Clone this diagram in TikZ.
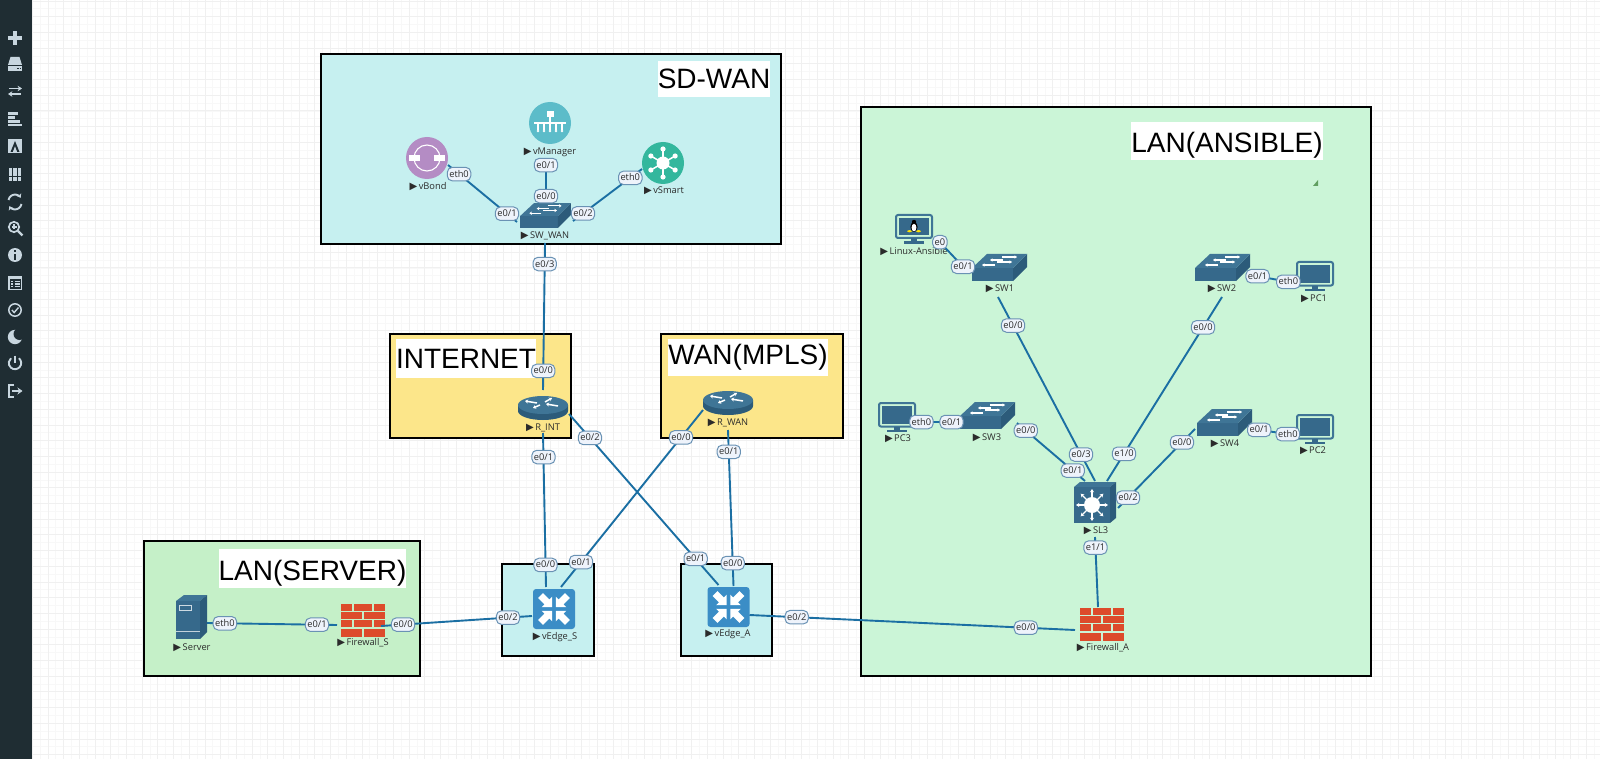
\documentclass[tikz,border=0pt]{standalone}
\usepackage{fontspec}
\setmainfont{Open Sans}
\newfontfamily\arialf{Liberation Sans}
\newfontfamily\dejavuf{DejaVu Sans}
\usetikzlibrary{arrows.meta}
\definecolor{barbg}{HTML}{1F2D33}
\definecolor{barfg}{HTML}{C8D6DF}
\definecolor{gridmin}{HTML}{F8F8F8}
\definecolor{gridmaj}{HTML}{F0F0F0}
\definecolor{cyanbox}{HTML}{C6F0F0}
\definecolor{greenbox}{HTML}{CBF5D7}
\definecolor{greenbox2}{HTML}{C5F0C8}
\definecolor{yellowbox}{HTML}{FCE68A}
\definecolor{linkc}{HTML}{1B6FA3}
\definecolor{devA}{HTML}{36698B}
\definecolor{devB}{HTML}{2C5B7A}
\definecolor{devC}{HTML}{3F7596}
\definecolor{brick}{HTML}{DD4B2B}
\definecolor{bondc}{HTML}{B48CC4}
\definecolor{manc}{HTML}{5CBCC9}
\definecolor{smartc}{HTML}{33B79D}
\definecolor{edgec}{HTML}{3B8DC6}
\definecolor{portf}{HTML}{EEF3FB}
\definecolor{portd}{HTML}{6A92B4}
\definecolor{textd}{HTML}{2B2B2B}
\newcommand{\tri}{{\dejavuf\fontsize{10}{10}\selectfont ▶}\,}
\tikzset{
  zone/.style={draw=black,line width=2.4pt},
  title/.style={fill=white,text=black,inner sep=0pt,font=\arialf\fontsize{28}{30}\selectfont,anchor=center},
  lowtitle/.style={title,text height=26pt,text depth=3pt},
  dev/.style={inner sep=0pt,minimum width=#1,minimum height=#1},
  dev/.default=30pt,
  devlabel/.style={text=textd,inner sep=0pt,text height=8pt,text depth=1pt,font=\fontsize{9.3}{10}\selectfont},
  link/.style={draw=linkc,line width=1.9pt},
  port/.style={draw=portd,line width=1pt,fill=portf,rounded corners=5pt,inner xsep=2pt,inner ysep=0pt,minimum height=13.5pt,text height=7.5pt,text depth=1.5pt,text=textd,font=\fontsize{9.3}{10}\selectfont},
  baricon/.style={fill=barfg,draw=none},
  swarrow/.style={white,line width=1.1pt,-{Stealth[length=2.6pt,width=3.4pt]}},
  switchicon/.pic={
    \fill[devA] (-27,0) rectangle (14,13);
    \fill[devB] (14,0) -- (28,-14) -- (28,-1) -- (14,13) -- cycle;
    \fill[devC] (-27,0) -- (-12,-14) -- (28,-14) -- (14,0) -- cycle;
    \draw[swarrow] (3,-11) -- (18,-11);
    \draw[swarrow] (4,-8) -- (-9,-8);
    \draw[swarrow] (-2,-6) -- (13,-6);
    \draw[swarrow] (-4,-3) -- (-17,-3);
  },
  rtarrow/.style={white,line width=1.5pt,-{Stealth[length=3pt,width=4pt]}},
  routericon/.pic={
    \fill[devB] (-25,-3) -- (-25,3) arc[start angle=180,end angle=360,x radius=25,y radius=-9] -- (25,-3) -- cycle;
    \fill[devC] (0,-3) ellipse[x radius=25,y radius=9];
    \draw[rtarrow] (-6,-5) -- (-18,-7);
    \draw[rtarrow] (2,-6) -- (9,-10);
    \draw[rtarrow] (15,-2) -- (3,-4);
    \draw[rtarrow] (-3,-3) -- (-10,0);
  },
  edgeicon/.pic={
    \fill[fill=edgec,rounded corners=3pt] (-21,-20) rectangle (21,20);
    \foreach \a in {45,135,225,315}{
      \fill[white,rotate=\a] (19,-3.5) -- (10,-3.5) -- (10,-7.5) -- (2.5,0) -- (10,7.5) -- (10,3.5) -- (19,3.5) -- cycle;
    }
  },
  coreicon/.pic={
    \fill[devC] (-18,-18) -- (-12,-23) -- (24,-23) -- (18,-18) -- cycle;
    \fill[devB] (18,-18) -- (24,-23) -- (24,13) -- (18,18) -- cycle;
    \fill[devA] (-18,-18) rectangle (18,18);
    \fill[white] (0,0) circle[radius=8];
    \foreach \a in {0,45,...,315}{
      \draw[white,line width=1.2pt,-{Stealth[length=3.4pt,width=4.2pt]},rotate=\a] (7,0) -- (16,0);
    }
  },
  fwicon/.pic={
    \foreach \ya/\yb in {-16.5/-9.5,0/7}{
      \fill[brick] (-22,\ya) rectangle (-11,\yb);
      \fill[brick] (-9,\ya) rectangle (9,\yb);
      \fill[brick] (11,\ya) rectangle (22,\yb);
    }
    \foreach \ya/\yb in {-8/-1,9/16.5}{
      \fill[brick] (-22,\ya) rectangle (-1,\yb);
      \fill[brick] (1,\ya) rectangle (22,\yb);
    }
  },
  servericon/.pic={
    \fill[devC] (-16,-16) -- (-8,-22) -- (15,-22) -- (8,-16) -- cycle;
    \fill[devB] (8,-16) -- (15,-22) -- (15,15) -- (8,22) -- cycle;
    \fill[devA] (-16,-16) rectangle (8,22);
    \draw[white!75!devA,line width=.8pt] (-13,-12) rectangle (-1,-7);
    \draw[white!70!devA,line width=1pt] (-16,14) -- (8,14);
  },
  monitoricon/.pic={
    \draw[devC,line width=2pt,rounded corners=2pt] (-18,-14) rectangle (18,9.5);
    \fill[devA] (-15,-11) rectangle (15,6.5);
    \fill[devA] (-3,9.5) rectangle (3,13);
    \fill[devA] (-10,12.5) rectangle (10,15);
  },
  linuxicon/.pic={
    \draw[devC,line width=2pt,rounded corners=2pt] (-18,-13) rectangle (18,10);
    \fill[devA] (-15,-10) rectangle (15,7);
    \fill[devA] (-3,10) rectangle (3,14);
    \fill[devA] (-10,13.5) rectangle (10,16);
    \fill[black] (0,-6) circle[radius=2.2];
    \fill[black] (0,-1) ellipse[x radius=3.6,y radius=5];
    \fill[white] (0,-.4) ellipse[x radius=2.4,y radius=3.8];
    \fill[yellow!85!orange] (-4.5,3.2) ellipse[x radius=2.3,y radius=1.1];
    \fill[yellow!85!orange] (4.5,3.2) ellipse[x radius=2.3,y radius=1.1];
  }
}
\begin{document}
\begin{tikzpicture}[x=1pt,y=-1pt]
\useasboundingbox (0,0) rectangle (1600,759);
\fill[white] (0,0) rectangle (1600,759);
% grid
\foreach \i in {0,...,205}{
  \pgfmathsetmacro{\gx}{16.5+7.85*\i}
  \draw[gridmin,line width=.7pt] (\gx,0) -- (\gx,759);
}
\foreach \i in {0,...,100}{
  \pgfmathsetmacro{\gy}{1+7.85*\i}
  \draw[gridmin,line width=.7pt] (0,\gy) -- (1600,\gy);
}
\foreach \i in {0,...,102}{
  \pgfmathsetmacro{\gx}{16.5+15.7*\i}
  \draw[gridmaj,line width=.8pt] (\gx,0) -- (\gx,759);
}
\foreach \i in {0,...,48}{
  \pgfmathsetmacro{\gy}{1+15.7*\i}
  \draw[gridmaj,line width=.8pt] (0,\gy) -- (1600,\gy);
}
% sidebar
\fill[barbg] (0,0) rectangle (32,759);
\fill[baricon] (8,36) rectangle (22,40.5);
\fill[baricon] (12.7,31.5) rectangle (17.3,45);
\fill[baricon] (10.5,57) -- (19.5,57) -- (22,65) -- (8,65) -- cycle;
\fill[baricon] (8,66) rectangle (22,71);
\fill[barbg] (17,68) rectangle (18.5,69.5);
\fill[barbg] (19.5,68) rectangle (21,69.5);
\draw[barfg,line width=1.9pt,-{Stealth[length=4.4pt,width=5.6pt]}] (9,88.5) -- (22,88.5);
\draw[barfg,line width=1.9pt,-{Stealth[length=4.4pt,width=5.6pt]}] (21,94) -- (8,94);
\fill[baricon] (8,112.5) rectangle (17.5,115.5);
\fill[baricon] (8,116.5) rectangle (15,119.5);
\fill[baricon] (8,120.5) rectangle (20,123.5);
\fill[baricon] (8,124.5) rectangle (22,126.5);
\fill[baricon] (8,139.5) rectangle (22,153);
\fill[barbg] (15,141) -- (19.5,152) -- (17.3,152) -- (15,146) -- (12.7,152) -- (10.5,152) -- cycle;
\foreach \cx in {8.5,13,17.5}{\foreach \cy in {168,172.5,177}{
  \fill[baricon] (\cx,\cy) rectangle ++(3.8,3.8);
}}
\draw[barfg,line width=1.9pt,-{Stealth[length=3.8pt,width=5.4pt]}] (8.5,200) arc[start angle=-170,end angle=-30,radius=6.6];
\draw[barfg,line width=1.9pt,-{Stealth[length=3.8pt,width=5.4pt]}] (21.5,204) arc[start angle=10,end angle=150,radius=6.6];
\draw[barfg,line width=1.7pt] (14,227) circle[radius=5.2];
\draw[barfg,line width=2.4pt] (18,231) -- (22.5,235.5);
\draw[barfg,line width=1.1pt] (11.5,227) -- (16.5,227) (14,224.5) -- (14,229.5);
\fill[baricon] (15,255) circle[radius=7];
\fill[barbg] (13.8,250.5) rectangle (16.2,252.5);
\fill[barbg] (13.8,254) rectangle (16.2,259.8);
\draw[barfg,line width=1.3pt] (9,276.5) rectangle (21.5,289.5);
\fill[baricon] (9,276.5) rectangle (21.5,279);
\draw[barfg,line width=1.1pt] (11,281.5) -- (13,281.5) (14.5,281.5) -- (20,281.5) (11,284) -- (13,284) (14.5,284) -- (20,284) (11,286.5) -- (13,286.5) (14.5,286.5) -- (20,286.5);
\draw[barfg,line width=1.5pt] (15,310) circle[radius=6.2];
\draw[barfg,line width=1.4pt] (11.8,310) -- (14.2,312.5) -- (18.5,307.5);
\fill[baricon] (15,337) circle[radius=7.2];
\fill[barbg] (19.5,334) circle[radius=6];
\draw[barfg,line width=1.9pt] (15,363) ++(-50:6.2) arc[start angle=-50,end angle=230,radius=6.2];
\draw[barfg,line width=1.9pt] (15,355.5) -- (15,362.5);
\draw[barfg,line width=1.9pt] (14,385) -- (9,385) -- (9,397) -- (14,397);
\draw[barfg,line width=2.4pt,-{Stealth[length=5pt,width=7pt]}] (12,391) -- (22.5,391);
% zones
\draw[zone,fill=cyanbox] (321,54) rectangle (781,244);
\draw[zone,fill=greenbox] (861,107) rectangle (1371,676);
\draw[zone,fill=yellowbox] (390,334) rectangle (571,438);
\draw[zone,fill=yellowbox] (661,334) rectangle (843,438);
\draw[zone,fill=greenbox2] (144,541) rectangle (420,676);
\draw[zone,fill=cyanbox] (502,564) rectangle (594,656);
\draw[zone,fill=cyanbox] (681,564) rectangle (772,656);
\fill[gray!75!green] (1313,186) -- (1318,180) -- (1318,186) -- cycle;
% zone titles
\node[title,minimum width=112pt,minimum height=36pt] (tsd) at (714,79) {SD-WAN};
\node[lowtitle,minimum width=192pt,minimum height=38pt] (tans) at (1227,141) {LAN(ANSIBLE)};
\node[title,minimum width=140pt,minimum height=39pt] (tint) at (466,358.5) {INTERNET};
\node[title,minimum width=160pt,minimum height=37pt] (twan) at (748,357.5) {WAN(MPLS)};
\node[lowtitle,minimum width=185pt,minimum height=39pt] (tsrv) at (312.5,568.5) {LAN(SERVER)};
% devices: named anchors and icons
\node[dev] (vBond) at (427,158) {};
\fill[bondc] (427,158) circle[radius=21];
\draw[white,line width=1.1pt] (427,158) circle[radius=13];
\fill[white] (409,155.5) rectangle (420,161.5);
\fill[white] (433.5,155.5) rectangle (444.5,161.5);
\node[dev] (vManager) at (550,123) {};
\fill[manc] (550,123) circle[radius=21];
\fill[white] (546.5,111) rectangle (553.5,117);
\draw[white,line width=1.2pt] (550,116) -- (550,122);
\fill[white] (534,122) rectangle (566,124.5);
\foreach \vx in {538,544,550,556,562}{
  \draw[white,line width=1.2pt] (\vx,124) -- (\vx,130);
  \fill[white] (\vx,131) circle[radius=1.3];
}
\node[dev] (vSmart) at (663,163) {};
\fill[smartc] (663,163) circle[radius=21];
\fill[white] (663,163) circle[radius=6.5];
\foreach \a in {30,90,150,210,270,330}{
  \draw[white,line width=1.5pt] (663,163) -- ++(\a:13.5);
  \fill[white] (663,163) ++(\a:14) circle[radius=2.6];
}
\node[dev=34pt] (swwan) at (545,216) {};
\pic[scale=.92] at (545,216) {switchicon};
\node[dev=34pt] (sw1) at (999,268) {};
\pic at (999,268) {switchicon};
\node[dev=34pt] (sw2) at (1222,268) {};
\pic at (1222,268) {switchicon};
\node[dev=34pt] (sw3) at (987,416) {};
\pic at (987,416) {switchicon};
\node[dev=34pt] (sw4) at (1224,423) {};
\pic at (1224,423) {switchicon};
\node[dev] (rint) at (543,408) {};
\pic at (543,408) {routericon};
\node[dev] (rwan) at (728,403) {};
\pic at (728,403) {routericon};
\node[dev] (vedges) at (554,609) {};
\pic at (554,609) {edgeicon};
\node[dev] (vedgea) at (728.5,607) {};
\pic at (728.5,607) {edgeicon};
\node[dev=36pt] (sl3) at (1092,505) {};
\pic at (1092,505) {coreicon};
\node[dev] (fwa) at (1102,624) {};
\pic at (1102,624) {fwicon};
\node[dev] (fws) at (363,620) {};
\pic at (363,620) {fwicon};
\node[dev] (server) at (192,617) {};
\pic at (192,617) {servericon};
\node[dev] (pc1) at (1315,276) {};
\pic at (1315,276) {monitoricon};
\node[dev] (pc2) at (1315,429) {};
\pic at (1315,429) {monitoricon};
\node[dev] (pc3) at (897,417) {};
\pic at (897,417) {monitoricon};
\node[dev] (linux) at (914,228) {};
\pic at (914,228) {linuxicon};
% device labels
\node[devlabel] (lvbond) at (428,186) {\tri vBond};
\node[devlabel] (lvman) at (550,151) {\tri vManager};
\node[devlabel] (lvsmart) at (664,190) {\tri vSmart};
\node[devlabel] (lswwan) at (545,235) {\tri SW\_WAN};
\node[devlabel] (lsw1) at (1000,288) {\tri SW1};
\node[devlabel] (lsw2) at (1222,288) {\tri SW2};
\node[devlabel] (lsw3) at (987,437) {\tri SW3};
\node[devlabel] (lsw4) at (1225,443) {\tri SW4};
\node[devlabel] (lpc1) at (1314,298) {\tri PC1};
\node[devlabel] (lpc2) at (1313,450) {\tri PC2};
\node[devlabel] (lpc3) at (898,438) {\tri PC3};
\node[devlabel] (llinux) at (914,251) {\tri Linux-Ansible};
\node[devlabel] (lsl3) at (1096,530) {\tri SL3};
\node[devlabel] (lfwa) at (1103,647) {\tri Firewall\_A};
\node[devlabel] (lfws) at (363,642) {\tri Firewall\_S};
\node[devlabel] (lserver) at (192,647) {\tri Server};
\node[devlabel] (lves) at (555,636) {\tri vEdge\_S};
\node[devlabel] (lvea) at (728,633) {\tri vEdge\_A};
\node[devlabel] (lrint) at (543,427) {\tri R\_INT};
\node[devlabel] (lrwan) at (728,422) {\tri R\_WAN};
% connectors
\draw[link] ([shift={(21,7)}]vBond.center) -- node[port,pos=.16] (p1a) {eth0} node[port,pos=.855] (p1b) {e0/1} ([shift={(-28,6)}]swwan.center);
\draw[link] ([shift={(-4,37)}]vManager.center) -- node[port,pos=.12] (p2a) {e0/1} node[port,pos=.86] (p2b) {e0/0} ([shift={(1,-14)}]swwan.center);
\draw[link] ([shift={(-21,6)}]vSmart.center) -- node[port,pos=.17] (p3a) {eth0} node[port,pos=.855] (p3b) {e0/2} ([shift={(28,5)}]swwan.center);
\draw[link] ([shift={(0,27)}]swwan.center) -- node[port,pos=.143] (p4a) {e0/3} node[port,pos=.87] (p4b) {e0/0} ([shift={(0,-18)}]rint.center);
\draw[link] ([shift={(0,25)}]rint.center) -- node[port,pos=.156] (p5a) {e0/1} node[port,pos=.857] (p5b) {e0/0} ([shift={(-8,-22)}]vedges.center);
\draw[link] ([shift={(26,6)}]rint.center) -- node[port,pos=.14] (p6a) {e0/2} node[port,pos=.847] (p6b) {e0/1} ([shift={(-10,-22)}]vedgea.center);
\draw[link] ([shift={(-25,7)}]rwan.center) -- node[port,pos=.155] (p7a) {e0/0} node[port,pos=.859] (p7b) {e0/1} ([shift={(7,-22)}]vedges.center);
\draw[link] ([shift={(0,27)}]rwan.center) -- node[port,pos=.14] (p8a) {e0/1} node[port,pos=.853] (p8b) {e0/0} ([shift={(5,-21)}]vedgea.center);
\draw[link] ([shift={(15,6)}]server.center) -- node[port,pos=.138] (p9a) {eth0} node[port,pos=.846] (p9b) {e0/1} ([shift={(-26,5)}]fws.center);
\draw[link] ([shift={(18,6)}]fws.center) -- node[port,pos=.146] (p10a) {e0/0} node[port,pos=.841] (p10b) {e0/2} ([shift={(-22,7)}]vedges.center);
\draw[link] ([shift={(21,8)}]vedgea.center) -- node[port,pos=.145] (p11a) {e0/2} node[port,pos=.849] (p11b) {e0/0} ([shift={(-27,6)}]fwa.center);
\draw[link] ([shift={(21,9)}]linux.center) -- node[port,pos=.15] (p12a) {e0} node[port,pos=.85] (p12b) {e0/1} ([shift={(-31,4)}]sw1.center);
\draw[link] ([shift={(-1,29)}]sw1.center) -- node[port,pos=.155] (p13a) {e0/0} node[port,pos=.856] (p13b) {e0/3} ([shift={(3,-24)}]sl3.center);
\draw[link] ([shift={(0,29)}]sw2.center) -- node[port,pos=.165] (p14a) {e0/0} node[port,pos=.852] (p14b) {e1/0} ([shift={(15,-24)}]sl3.center);
\draw[link] ([shift={(29,7)}]sw2.center) -- node[port,pos=.15] (p15a) {e0/1} node[port,pos=.85] (p15b) {eth0} ([shift={(-20,7)}]pc1.center);
\draw[link] ([shift={(18,5)}]pc3.center) -- node[port,pos=.15] (p16a) {eth0} node[port,pos=.85] (p16b) {e0/1} ([shift={(-29,6)}]sw3.center);
\draw[link] ([shift={(30,7)}]sw3.center) -- node[port,pos=.13] (p17a) {e0/0} node[port,pos=.82] (p17b) {e0/1} ([shift={(-7,-24)}]sl3.center);
\draw[link] ([shift={(-29,6)}]sw4.center) -- node[port,pos=.17] (p18a) {e0/0} node[port,pos=.87] (p18b) {e0/2} ([shift={(26,3)}]sl3.center);
\draw[link] ([shift={(29,6)}]sw4.center) -- node[port,pos=.15] (p19a) {e0/1} node[port,pos=.85] (p19b) {eth0} ([shift={(-21,6)}]pc2.center);
\draw[link] ([shift={(3,32)}]sl3.center) -- node[port,pos=.15] (p20a) {e1/1} ([shift={(-4,-17)}]fwa.center);
\end{tikzpicture}
\end{document}
